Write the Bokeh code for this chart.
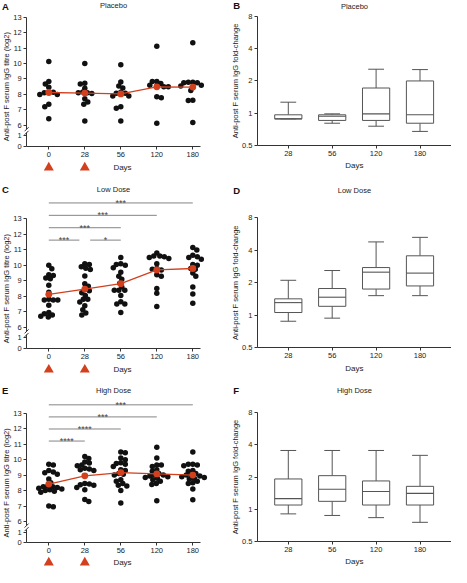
import numpy as np
from bokeh.plotting import figure
from bokeh.models import Range1d, FixedTicker, ColumnDataSource, LinearAxis
from bokeh.layouts import gridplot
from bokeh.embed import file_html
from bokeh.resources import INLINE
from bokeh.core.properties import value

# ---------------- data ----------------
days = ["0", "28", "56", "120", "180"]
dose_days = ["0", "28"]
fold_days = ["28", "56", "120", "180"]

# Anti-post F serum IgG titre (log2), individual subjects
pl_d0 = [10.13, 8.84, 8.67, 8.46, 8.14, 8.14, 8.10, 8.00, 8.00, 7.36, 7.20, 6.42]
pl_d28 = [10.00, 8.72, 8.67, 8.40, 8.15, 8.10, 8.10, 8.05, 7.72, 7.50, 7.36, 6.27]
pl_d56 = [9.92, 8.80, 8.55, 8.42, 8.14, 8.08, 8.08, 7.90, 7.90, 7.20, 7.10, 6.27]
pl_d120 = [11.12, 8.84, 8.84, 8.70, 8.60, 8.55, 8.50, 8.50, 7.85, 7.78, 6.12]
pl_d180 = [11.35, 8.78, 8.78, 8.76, 8.76, 8.60, 8.55, 8.50, 8.25, 7.62, 7.60, 6.18]

lo_d0 = [10.00, 9.78, 9.40, 9.34, 9.18, 9.13, 8.71, 8.27, 7.81, 7.77, 7.77, 7.77,
         7.43, 6.96, 6.88, 6.79, 6.71, 6.67]
lo_d28 = [10.10, 10.05, 9.91, 9.81, 9.74, 9.32, 8.82, 8.65, 8.44, 8.36, 8.23, 8.06,
          7.81, 7.81, 7.64, 7.39, 7.13, 6.92, 6.79]
lo_d56 = [10.50, 10.10, 10.05, 10.00, 9.85, 9.55, 9.30, 9.10, 8.85, 8.60, 8.40, 8.40,
          8.40, 8.05, 7.65, 7.50, 7.50, 6.95]
lo_d120 = [10.80, 10.60, 10.60, 10.55, 10.50, 10.45, 10.10, 9.80, 9.75, 9.70, 9.40,
           9.30, 8.50, 8.20, 7.35]
lo_d180 = [11.15, 11.00, 10.65, 10.55, 10.50, 10.40, 10.05, 10.00, 9.80, 9.75, 9.50,
           9.30, 8.60, 8.15, 7.55]

hi_d0 = [9.70, 9.65, 9.30, 9.20, 9.15, 9.05, 8.75, 8.50, 8.30, 8.25, 8.25, 8.20, 8.15,
         8.10, 8.05, 8.00, 7.95, 7.90, 7.00, 6.95]
hi_d28 = [10.20, 10.07, 9.85, 9.78, 9.65, 9.60, 9.45, 9.40, 9.35, 9.30, 8.45, 8.42,
          8.38, 8.35, 8.20, 8.05, 7.42, 7.30]
hi_d56 = [10.50, 10.45, 10.10, 10.00, 9.80, 9.75, 9.70, 9.55, 9.35, 9.30, 9.10, 9.05,
          9.00, 8.70, 8.60, 8.45, 8.35, 8.30, 8.00, 7.20]
hi_d120 = [10.80, 10.10, 9.65, 9.65, 9.55, 9.35, 9.25, 9.10, 9.00, 9.00, 8.95, 8.90,
           8.85, 8.80, 8.70, 8.60, 8.45, 8.40, 7.35]
hi_d180 = [10.50, 9.70, 9.70, 9.65, 9.60, 9.30, 9.25, 9.10, 9.00, 9.00, 8.95, 8.90,
           8.85, 8.80, 8.75, 8.60, 8.50, 8.45, 8.10, 7.40]

# significance comparisons (from day, to day, label)
lo_comps = [("0", "180", "***"), ("0", "120", "***"), ("0", "56", "***"),
            ("0", "28", "***"), ("28", "56", "*")]
hi_comps = [("0", "180", "***"), ("0", "120", "***"), ("0", "56", "****"),
            ("0", "28", "****")]

# fold-change box statistics: min, q1, median, q3, max
pl_min = [0.89, 0.81, 0.76, 0.68]
pl_q1 = [0.89, 0.86, 0.86, 0.81]
pl_med = [0.89, 0.94, 0.99, 0.97]
pl_q3 = [0.97, 0.97, 1.72, 2.00]
pl_max = [1.27, 0.99, 2.57, 2.55]

lo_min = [0.88, 0.94, 1.52, 1.52]
lo_q1 = [1.06, 1.21, 1.75, 1.87]
lo_med = [1.31, 1.47, 2.51, 2.46]
lo_q3 = [1.42, 1.77, 2.77, 3.56]
lo_max = [2.11, 2.60, 4.79, 5.28]

hi_min = [0.91, 0.88, 0.84, 0.76]
hi_q1 = [1.10, 1.19, 1.10, 1.10]
hi_med = [1.26, 1.54, 1.47, 1.41]
hi_q3 = [1.92, 2.06, 1.84, 1.64]
hi_max = [3.53, 3.53, 3.53, 3.18]

# ---------------- style / layout ----------------
FONT = "Liberation Sans"
RED = "#d2401e"
AXC = "#333333"
TXC = "#222222"
BOXC = "#555555"
BRC = "#858585"
LW, RW = 225, 226
# left panels (pixels inside each figure)
CAT0_L, SP_L = 48.3, 36.0          # first category centre, category spacing
AXL_L, AXR_L = 26.1, 200.0         # y-axis x position, x-axis right end
# right panels
CAT0_R, SP_R = 62.8, 43.9
AXL_R, AXR_R = 31.9, 226.0
Y0, Y1 = 4.62, 5.32                # broken-axis positions of ticks "0" and "1"
UP_LO, LOW_HI = 6 - 0.26, Y1 + 0.19


def style_axis(ax):
    ax.axis_line_color = AXC
    ax.major_tick_line_color = AXC
    ax.minor_tick_line_color = None
    ax.major_tick_in = 0
    ax.major_tick_out = 3
    ax.major_label_text_font = FONT
    ax.major_label_text_font_size = "7.5px"
    ax.major_label_text_color = TXC
    ax.major_label_standoff = 2


def base_fig(w, h, xr, yr, log=False):
    p = figure(width=w, height=h, x_range=Range1d(*xr), y_range=Range1d(*yr),
               y_axis_type="log" if log else "linear", output_backend="svg",
               toolbar_location=None, title=None, min_border=0)
    p.xgrid.visible = False
    p.ygrid.visible = False
    p.outline_line_color = None
    p.background_fill_color = "white"
    style_axis(p.xaxis[0])
    style_axis(p.yaxis[0])
    return p


def txt(p, x, y, s, size="7.5px", align="center", bold=False, angle=0.0, color=TXC):
    p.text(x=[x], y=[y], text=[s], text_font=value(FONT), text_font_size=size,
           text_font_style="bold" if bold else "normal", text_align=align,
           text_baseline="middle", angle=angle, text_color=color)


def swarm(vals, ppx, ppy, diam):
    vals = np.asarray(vals, float)
    order = np.argsort(-vals, kind="stable")
    placed = []
    offs = np.zeros(len(vals))
    for k, i in enumerate(order):
        y = vals[i] * ppy
        best = None
        for step in range(0, 80):
            for sgn in ((1, -1) if k % 2 else (-1, 1)):
                c = sgn * step * 0.5
                if all((c - px) ** 2 + (y - py) ** 2 >= diam ** 2 for px, py in placed):
                    best = c
                    break
            if best is not None:
                break
        placed.append((best, y))
        offs[i] = best / ppx
    return offs


def dot_panel(letter, title, groups, comps, h, y13, y00, title_y, letter_y, days_y,
              br_base, br_step):
    fx = lambda px: (px - CAT0_L) / SP_L
    ppy = (y00 - y13) / (13 - Y0)
    fy = lambda py: 13 - (py - y13) / ppy
    p = base_fig(LW, h, (fx(0), fx(LW)), (fy(h), fy(0)))
    X0, X1 = fx(AXL_L), fx(AXR_L)
    idx = list(range(len(days)))
    pos = {d: i for i, d in enumerate(days)}

    # x axis
    xa = p.xaxis[0]
    xa.fixed_location = Y0
    xa.bounds = (X0, X1)
    xa.ticker = FixedTicker(ticks=idx)
    xa.major_label_overrides = {i: d for i, d in enumerate(days)}
    # broken y axis: upper part
    ya = p.yaxis[0]
    ya.fixed_location = X0
    ya.bounds = (UP_LO, 13)
    ya.ticker = FixedTicker(ticks=list(range(6, 14)))
    ya.major_label_overrides = {float(v): str(v) for v in range(6, 14)}
    # lower part
    yb = LinearAxis(fixed_location=X0, bounds=(Y0, LOW_HI),
                    ticker=FixedTicker(ticks=[Y0, Y1]),
                    major_label_overrides={Y0: "0", Y1: "1"})
    style_axis(yb)
    p.add_layout(yb, "left")
    dxs, dys = 2.0 / SP_L, 2.0 / ppy
    p.segment(x0=[X0 - dxs] * 2, y0=[UP_LO - dys, LOW_HI - dys],
              x1=[X0 + dxs] * 2, y1=[UP_LO + dys, LOW_HI + dys],
              line_color=AXC, line_width=1)

    # points
    xs, ys = [], []
    for i, vals in enumerate(groups):
        offs = swarm(vals, SP_L, ppy, 4.3)
        xs += list(i + offs)
        ys += list(vals)
    p.scatter(xs, ys, size=5.5, color="#111111", line_color=None)
    means = [float(np.mean(g)) for g in groups]
    p.line(idx, means, color=RED, line_width=1.3)
    p.scatter(idx, means, size=6.8, color=RED, line_color=None)

    # significance brackets
    if comps:
        lv = [(pos[a], pos[b], pos[b] - pos[a] - 1, s) for a, b, s in comps]
        bx0, bx1, by, bm, bt = [], [], [], [], []
        for a, b, l, s in lv:
            x0, x1 = float(a), float(b)
            for a2, b2, l2, _ in lv:
                if l2 == l and a2 == b:
                    x1 -= 0.15
                if l2 == l and b2 == a:
                    x0 += 0.15
            bx0.append(x0)
            bx1.append(x1)
            by.append(br_base + br_step * l)
            bm.append((x0 + x1) / 2)
            bt.append(s)
        p.segment(x0=bx0, y0=by, x1=bx1, y1=by, line_color=BRC, line_width=1)
        p.text(x=bm, y=by, text=bt, text_align="center", text_baseline="alphabetic",
               text_font=value(FONT), text_font_size="9px", text_color="#444444")

    # dosing triangles and texts
    p.scatter([pos[d] for d in dose_days], [fy(days_y)] * len(dose_days),
              marker="triangle", size=10, color=RED, line_color=None)
    txt(p, fx(122.0), fy(days_y), "Days", size="8px")
    txt(p, fx((AXL_L + AXR_L) / 2), fy(title_y), title)
    txt(p, fx(1.5), fy(letter_y), letter, size="9.5px", align="left", bold=True,
        color="#111111")
    txt(p, fx(6.0), 8.5, "Anti-post F serum IgG titre (log2)", angle=np.pi / 2)
    return p


def box_panel(letter, title, lo, q1, med, q3, hi, h, y8, y05, title_y, letter_y, days_y):
    fx = lambda px: (px - CAT0_R) / SP_R
    ppd = (y05 - y8) / 4.0
    fy = lambda py: 8 * 2 ** ((y8 - py) / ppd)
    p = base_fig(RW, h, (fx(0), fx(RW)), (fy(h), fy(0)), log=True)
    X0, X1 = fx(AXL_R), fx(AXR_R)

    idx = np.arange(len(fold_days), dtype=float)
    bw, cw = 0.62, 0.36
    src = ColumnDataSource(dict(x=idx, lo=lo, q1=q1, med=med, q3=q3, hi=hi,
                                xl=idx - bw / 2, xr=idx + bw / 2,
                                cl=idx - cw / 2, cr=idx + cw / 2))
    p.segment(x0="x", y0="q3", x1="x", y1="hi", source=src, line_color=BOXC, line_width=1)
    p.segment(x0="x", y0="lo", x1="x", y1="q1", source=src, line_color=BOXC, line_width=1)
    p.segment(x0="cl", y0="hi", x1="cr", y1="hi", source=src, line_color=BOXC, line_width=1)
    p.segment(x0="cl", y0="lo", x1="cr", y1="lo", source=src, line_color=BOXC, line_width=1)
    p.vbar(x="x", width=bw, bottom="q1", top="q3", source=src, fill_color="white",
           line_color=BOXC, line_width=1)
    p.segment(x0="xl", y0="med", x1="xr", y1="med", source=src, line_color=BOXC,
              line_width=1.1)

    xa = p.xaxis[0]
    xa.fixed_location = 0.5
    xa.bounds = (X0, X1)
    xa.ticker = FixedTicker(ticks=list(range(len(fold_days))))
    xa.major_label_overrides = {i: d for i, d in enumerate(fold_days)}
    ya = p.yaxis[0]
    ya.fixed_location = X0
    ya.bounds = (0.5, 8)
    ya.ticker = FixedTicker(ticks=[0.5, 1, 2, 4, 8])
    ya.major_label_overrides = {0.5: "0.5", 1: "1", 2: "2", 4: "4", 8: "8"}

    txt(p, fx((AXL_R + AXR_R) / 2), fy(days_y), "Days", size="8px")
    txt(p, fx((AXL_R + AXR_R) / 2), fy(title_y), title)
    txt(p, fx(7.7), fy(letter_y), letter, size="9.5px", align="left", bold=True,
        color="#111111")
    txt(p, fx(9.7), 2.0, "Anti-post F serum IgG fold-change", angle=np.pi / 2)
    return p


pA = dot_panel("A", "Placebo", [pl_d0, pl_d28, pl_d56, pl_d120, pl_d180], None,
               185, 16.8, 146.0, 5.4, 5.8, 167.0, 0, 0)
pC = dot_panel("C", "Low Dose", [lo_d0, lo_d28, lo_d56, lo_d120, lo_d180], lo_comps,
               190, 33.4, 163.2, 4.2, 4.4, 184.2, 11.63, 0.80)
pE = dot_panel("E", "High Dose", [hi_d0, hi_d28, hi_d56, hi_d120, hi_d180], hi_comps,
               192, 37.7, 167.4, 14.7, 15.0, 187.0, 11.20, 0.78)
pB = box_panel("B", "Placebo", pl_min, pl_q1, pl_med, pl_q3, pl_max,
               185, 15.6, 145.3, 5.6, 5.4, 165.4)
pD = box_panel("D", "Low Dose", lo_min, lo_q1, lo_med, lo_q3, lo_max,
               190, 32.4, 162.2, 5.0, 5.2, 183.0)
pF = box_panel("F", "High Dose", hi_min, hi_q1, hi_med, hi_q3, hi_max,
               192, 36.7, 166.4, 15.0, 15.0, 186.2)

grid = gridplot([[pA, pB], [pC, pD], [pE, pF]], toolbar_location=None)

open("out.html", "w").write(file_html(grid, INLINE))
